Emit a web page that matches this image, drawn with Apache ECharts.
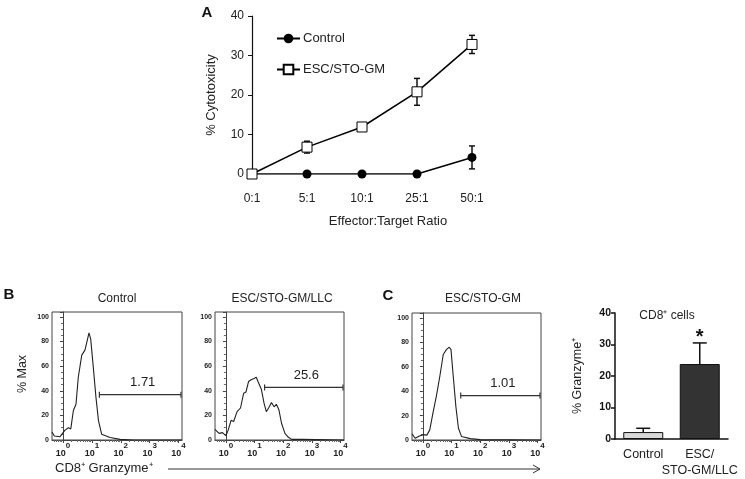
<!DOCTYPE html>
<html><head><meta charset="utf-8">
<script src="https://cdn.jsdelivr.net/npm/echarts@6/dist/echarts.min.js"></script>
<style>html,body{margin:0;padding:0;background:#fff}#c{width:745px;height:479px}</style>
</head><body><div id="c"></div>
<script>
// ---------- Panel A: cytotoxicity ----------
const ratios = ['0:1', '5:1', '10:1', '25:1', '50:1'];
const controlCyto = [0, 0, 0, 0, 4.2];
const controlErr = [0, 0, 0, 0, 2.9];
const escCyto = [0, 6.8, 11.9, 20.8, 32.8];
const escErr = [0, 1.5, 0, 3.4, 2.3];
const cytoTicks = [0, 10, 20, 30, 40];

// ---------- Panel B / C: histograms (x = log10 fluorescence, y = % Max) ----------
const histControl = [[-0.38,6.5],[-0.3,3.3],[-0.1,2.7],[0.07,8],[0.19,10],[0.27,9],[0.36,24],[0.45,29],[0.53,51],[0.65,69],[0.76,73],[0.84,81],[0.90,87],[0.96,82],[1.05,59],[1.14,35],[1.23,15.5],[1.34,4.6],[1.63,2],[1.98,0.5],[2.44,0],[4.12,0]];
const histLLC = [[-0.38,8.7],[-0.24,5.4],[-0.12,6],[0,3.5],[0.08,8],[0.18,16],[0.27,15],[0.39,23],[0.51,26],[0.62,38],[0.7,39],[0.79,47.5],[0.88,49],[0.98,50],[1.06,51],[1.12,47.5],[1.24,41],[1.33,30],[1.41,23],[1.49,26],[1.59,30.4],[1.68,27],[1.76,29],[1.85,24.5],[1.94,13.6],[2.06,5.4],[2.18,2.2],[2.29,0.5],[2.65,0.5],[4.12,0]];
const histGM = [[-0.38,5],[-0.27,1.4],[-0.12,3.3],[0.02,4.4],[0.14,4],[0.24,8.3],[0.35,22],[0.47,36],[0.59,52],[0.71,70],[0.82,74],[0.92,76],[0.98,74],[1.06,52],[1.15,27.5],[1.24,9.6],[1.35,2.8],[1.65,1.1],[2.0,0.3],[4.12,0]];
const histTitles = ['Control', 'ESC/STO-GM/LLC', 'ESC/STO-GM'];
// gate: [start, end, level, label]
const gateControl = [1.26, 4.12, 36.8, '1.71'];
const gateLLC = [1.35, 4.12, 42.7, '25.6'];
const gateGM = [1.32, 4.12, 36.4, '1.01'];
const decadeTicks = [0, 1, 2, 3, 4];
const pctMaxTicks = [0, 20, 40, 60, 80, 100];

// ---------- Panel C bar chart ----------
const barCats = ['Control', 'ESC/\nSTO-GM/LLC'];
const barVals = [2.2, 23.8];
const barErr = [1.2, 6.7];
const barSig = ['', '*'];
const granzymeTicks = [0, 10, 20, 30, 40];

const XMIN = -0.38, XMAX = 4.12;
const FONT = "'Liberation Sans', Arial, sans-serif";
const minorLog = [];
for (let d = -1; d <= 4; d++) for (let k = 2; k <= 9; k++) {
  const v = d + Math.log10(k);
  if (v > XMIN && v < XMAX) minorLog.push(v);
}

const chart = echarts.init(document.getElementById('c'), null, {renderer: 'canvas'});

const histGrids = [
  {left: 52, top: 312, width: 130, height: 128},
  {left: 215, top: 312, width: 129, height: 128},
  {left: 412, top: 313, width: 129, height: 127}
];

function histX(gi) {
  return [{
    type: 'value', gridIndex: gi, min: XMIN, max: XMAX, position: 'bottom',
    axisLine: {show: true, lineStyle: {color: '#444', width: 1}},
    splitLine: {show: false},
    axisTick: {show: true, customValues: decadeTicks, length: 3, lineStyle: {color: '#444'}},
    axisLabel: {
      customValues: decadeTicks, margin: 2,
      formatter: v => '{b|10}{s|' + v + '}',
      rich: {
        b: {fontSize: 9, fontWeight: 'bold', fontFamily: FONT, color: '#222', verticalAlign: 'bottom', lineHeight: 16},
        s: {fontSize: 8, fontWeight: 'bold', fontFamily: FONT, color: '#222', verticalAlign: 'top', lineHeight: 16}
      }
    }
  }, {
    type: 'value', gridIndex: gi, min: XMIN, max: XMAX, position: 'bottom',
    axisLine: {show: false}, axisLabel: {show: false}, splitLine: {show: false},
    axisTick: {show: true, customValues: minorLog, length: 2, lineStyle: {color: '#666'}}
  }];
}
function histY(gi) {
  return {
    type: 'value', gridIndex: gi, min: 0, max: 104, interval: 20,
    axisLine: {show: true, lineStyle: {color: '#444'}},
    axisTick: {show: true, length: 3, lineStyle: {color: '#444'}},
    minorTick: {show: true, splitNumber: 4, length: 2, lineStyle: {color: '#666'}},
    splitLine: {show: false},
    axisLabel: {fontSize: 7, fontWeight: 'bold', fontFamily: FONT, color: '#222', margin: 3,
      formatter: v => pctMaxTicks.includes(v) ? String(v) : ''}
  };
}

function gateSeries(gate, xi, yi) {
  return {
    type: 'custom', xAxisIndex: xi, yAxisIndex: yi, silent: true,
    data: [gate],
    encode: {x: [0, 1], y: 2},
    renderItem: (params, api) => {
      const a = api.coord([api.value(0), api.value(2)]);
      const b = api.coord([api.value(1), api.value(2)]);
      const st = {stroke: '#333', lineWidth: 1.2};
      return {type: 'group', children: [
        {type: 'line', shape: {x1: a[0], y1: a[1], x2: b[0] - 1, y2: b[1]}, style: st},
        {type: 'line', shape: {x1: a[0], y1: a[1] - 3, x2: a[0], y2: a[1] + 3}, style: st},
        {type: 'line', shape: {x1: b[0] - 1, y1: b[1] - 3, x2: b[0] - 1, y2: b[1] + 3}, style: st},
        {type: 'text', style: {text: gate[3], x: (a[0] + b[0]) / 2 + 2, y: a[1] - 12,
          align: 'center', verticalAlign: 'middle', font: '13px ' + FONT, fill: '#222'}}
      ]};
    }
  };
}

function errSeries(vals, errs, xi, yi, capW, both, z) {
  return {
    type: 'custom', xAxisIndex: xi, yAxisIndex: yi, silent: true, z: z,
    data: vals.map((v, i) => [i, v, errs[i]]),
    renderItem: (params, api) => {
      const x = api.value(0), v = api.value(1), e = api.value(2);
      if (!e) return null;
      const t = api.coord([x, v + e]);
      const b = api.coord([x, both ? v - e : v]);
      const st = {stroke: '#111', lineWidth: 1.5};
      const ch = [
        {type: 'line', shape: {x1: t[0], y1: t[1], x2: b[0], y2: b[1]}, style: st},
        {type: 'line', shape: {x1: t[0] - capW / 2, y1: t[1], x2: t[0] + capW / 2, y2: t[1]}, style: st}
      ];
      if (both) ch.push({type: 'line', shape: {x1: b[0] - capW / 2, y1: b[1], x2: b[0] + capW / 2, y2: b[1]}, style: st});
      return {type: 'group', children: ch};
    }
  };
}

const grids = [
  {left: 252, top: 16, width: 220, height: 158},
  ...histGrids.map(g => Object.assign({show: true, borderColor: '#444', borderWidth: 1, backgroundColor: 'transparent'}, g)),
  {left: 615, top: 313, width: 113, height: 127}
];

const xAxes = [
  {type: 'category', gridIndex: 0, data: ratios, boundaryGap: false,
    axisLine: {show: false}, axisTick: {show: false}, splitLine: {show: false},
    axisLabel: {fontSize: 12, fontFamily: FONT, color: '#222', margin: 19}},
  ...histX(1), ...histX(2), ...histX(3),
  {type: 'category', gridIndex: 4, data: barCats,
    axisLine: {show: true, lineStyle: {color: '#111', width: 1.5}}, axisTick: {show: false},
    axisLabel: {fontSize: 12.5, fontFamily: FONT, color: '#222', margin: 8, lineHeight: 16, interval: 0}}
];

const yAxes = [
  {type: 'value', gridIndex: 0, min: 0, max: 40, interval: 10,
    name: '% Cytotoxicity', nameLocation: 'middle', nameGap: 34,
    nameTextStyle: {fontSize: 13, fontFamily: FONT, color: '#222'},
    axisLine: {show: true, lineStyle: {color: '#111', width: 1.2}},
    axisTick: {show: true, length: 4, lineStyle: {color: '#111'}},
    splitLine: {show: false},
    axisLabel: {fontSize: 12, fontFamily: FONT, color: '#222', margin: 8,
      formatter: v => cytoTicks.includes(v) ? String(v) : ''}},
  histY(1), histY(2), histY(3),
  {type: 'value', gridIndex: 4, min: 0, max: 40, interval: 10,
    name: '% Granzyme⁺', nameLocation: 'middle', nameGap: 31,
    nameTextStyle: {fontSize: 12.5, fontFamily: FONT, color: '#222'},
    axisLine: {show: true, lineStyle: {color: '#111', width: 1.5}},
    axisTick: {show: true, length: 4, lineStyle: {color: '#111', width: 1.5}},
    splitLine: {show: false},
    axisLabel: {fontSize: 10.5, fontWeight: 'bold', fontFamily: FONT, color: '#111', margin: 4,
      formatter: v => granzymeTicks.includes(v) ? String(v) : ''}}
];

const series = [
  errSeries(controlCyto, controlErr, 0, 0, 6, true, 1),
  errSeries(escCyto, escErr, 0, 0, 6, true, 1),
  {name: 'Control', type: 'line', xAxisIndex: 0, yAxisIndex: 0, data: controlCyto, z: 3,
    symbol: 'circle', symbolSize: 9, itemStyle: {color: '#000'},
    lineStyle: {color: '#000', width: 1.5}},
  {name: 'ESC/STO-GM', type: 'line', xAxisIndex: 0, yAxisIndex: 0, data: escCyto, z: 4,
    symbol: 'rect', symbolSize: 10, itemStyle: {color: '#fff', borderColor: '#000', borderWidth: 1},
    lineStyle: {color: '#000', width: 1.5}},
  // histograms
  {type: 'line', xAxisIndex: 1, yAxisIndex: 1, data: histControl, symbol: 'none', lineStyle: {color: '#222', width: 1.1}},
  {type: 'line', xAxisIndex: 3, yAxisIndex: 2, data: histLLC, symbol: 'none', lineStyle: {color: '#222', width: 1.1}},
  {type: 'line', xAxisIndex: 5, yAxisIndex: 3, data: histGM, symbol: 'none', lineStyle: {color: '#222', width: 1.1}},
  gateSeries(gateControl, 1, 1),
  gateSeries(gateLLC, 3, 2),
  gateSeries(gateGM, 5, 3),
  // bars
  {type: 'bar', xAxisIndex: 7, yAxisIndex: 4, barWidth: 40,
    data: barVals.map((v, i) => ({value: v, itemStyle: {color: i === 0 ? '#d9d9d9' : '#333333', borderColor: '#111', borderWidth: 1}}))},
  errSeries(barVals, barErr, 7, 4, 14, false, 1),
  {type: 'custom', xAxisIndex: 7, yAxisIndex: 4, silent: true,
    data: barVals.map((v, i) => [i, v + barErr[i], barSig[i]]),
    renderItem: (params, api) => {
      const s = barSig[params.dataIndex];
      if (!s) return null;
      const p = api.coord([api.value(0), api.value(1)]);
      return {type: 'text', style: {text: s, x: p[0], y: p[1] + 5, align: 'center', verticalAlign: 'bottom',
        font: 'bold 20px ' + FONT, fill: '#111'}};
    }}
];

const txt = (text, x, y, size, opt, rot) => ({type: 'text', x: x, y: y, rotation: rot || 0,
  style: Object.assign({text: text, font: size + 'px ' + FONT, fill: '#222', align: 'center', verticalAlign: 'middle'}, opt || {})});

chart.setOption({
  animation: false,
  backgroundColor: '#fff',
  grid: grids,
  xAxis: xAxes,
  yAxis: yAxes,
  legend: {data: ['Control', 'ESC/STO-GM'], orient: 'vertical', left: 271, top: 27,
    itemWidth: 23, itemHeight: 12, itemGap: 18,
    textStyle: {fontSize: 13, fontFamily: FONT, color: '#222', padding: [0, 0, 0, -2]}},
  series: series,
  graphic: [
    txt('A', 207, 13, 15, {font: 'bold 15px ' + FONT, fill: '#111'}),
    txt('Effector:Target Ratio', 388, 221, 13),
    txt('B', 9, 295, 15, {font: 'bold 15px ' + FONT, fill: '#111'}),
    txt('C', 388, 296, 15, {font: 'bold 15px ' + FONT, fill: '#111'}),
    txt(histTitles[0], 117, 299, 12),
    txt(histTitles[1], 282, 299, 12),
    txt(histTitles[2], 483, 299, 12),
    txt('% Max', 23, 374, 12.5, {}, Math.PI / 2),
    txt('CD8⁺ Granzyme⁺', 55, 468, 13, {align: 'left'}),
    {type: 'polyline', shape: {points: [[168, 469], [540, 469]]}, style: {stroke: '#333', lineWidth: 1}},
    {type: 'polyline', shape: {points: [[533, 465], [540, 469], [533, 473]]}, style: {stroke: '#333', lineWidth: 1, fill: null}},
    txt('CD8⁺ cells', 667, 316, 12)
  ]
});
</script>
</body></html>
